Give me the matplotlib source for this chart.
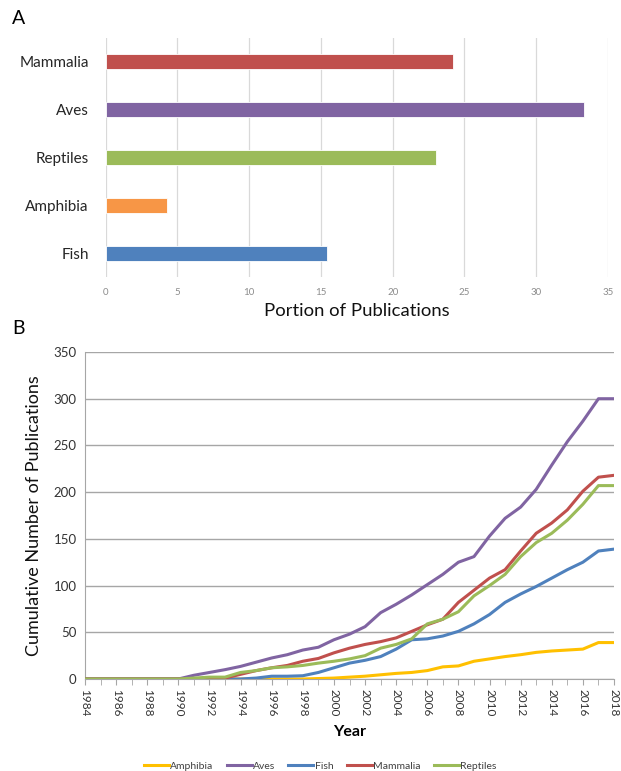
import matplotlib
matplotlib.use("Agg")
import matplotlib.pyplot as plt
import numpy as np

plt.rcParams['font.family'] = ['Lato', 'DejaVu Sans']

# Panel A data
categories = ["Fish", "Amphibia", "Reptiles", "Aves", "Mammalia"]
portions = [15.4, 4.3, 23.0, 33.3, 24.2]
bar_colors = ["#4F81BD", "#F79646", "#9BBB59", "#8064A2", "#C0504D"]

# Panel B data
years = list(range(1984, 2019))
amphibia = [0, 0, 0, 0, 0, 0, 0, 0, 0, 0, 0, 0, 0, 0, 0, 0.5, 1, 2, 3, 4.5, 6, 7, 9, 13, 14, 19, 21.5, 24, 26, 28.5, 30, 31, 32, 39, 39]
aves = [0, 0, 0, 0, 0, 0, 0, 4, 7, 10, 13.5, 18, 22.5, 26, 31, 34, 42, 48, 56, 71, 80, 90, 101, 112, 125, 131, 153, 172, 184, 203, 229, 254, 276, 300, 300]
fish = [0, 0, 0, 0, 0, 0, 0, 0, 0, 0, 0, 1, 3, 3, 3.5, 7, 12, 17, 20, 24, 32, 42, 43, 46, 51, 59, 69, 82, 91, 99, 108, 117, 125, 137, 139]
mammalia = [0, 0, 0, 0, 0, 0, 0, 0, 1, 1, 5, 9, 12, 14.5, 19, 22, 28, 33, 37, 40, 44, 51, 58, 64, 82, 95, 108, 117, 137, 156, 167, 181, 201, 216, 218]
reptiles = [0, 0, 0, 0, 0, 0, 0, 1, 2, 2, 7, 9, 12, 13, 14.5, 17, 19, 21.5, 25, 33, 37, 43, 59, 64, 72, 89, 100, 112, 131, 146, 156, 170, 187, 207, 207]
series_names = ["Amphibia", "Aves", "Fish", "Mammalia", "Reptiles"]
series_values = [amphibia, aves, fish, mammalia, reptiles]
line_colors = ["#FFC000", "#8064A2", "#4F81BD", "#C0504D", "#9BBB59"]

W, H = 621, 771
fig = plt.figure(figsize=(W / 100, H / 100), dpi=100)

# ---------- Panel A ----------
axA = fig.add_axes([105.5 / W, 1 - 277 / H, (608 - 105.5) / W, (277 - 38) / H])
ypos = np.arange(len(categories))
axA.barh(ypos, portions, height=0.31, color=bar_colors, edgecolor="white", linewidth=0.6, zorder=3)
axA.set_xlim(0, 35)
axA.set_ylim(-0.5, 4.5)
axA.set_xticks(np.arange(0, 36, 5))
axA.set_yticks(ypos)
axA.set_yticklabels(categories, fontsize=11, color="#262626")
axA.tick_params(axis="x", labelsize=7, colors="#8C8C8C", length=0, pad=8)
axA.tick_params(axis="y", length=0, pad=12)
axA.grid(axis="x", color="#D9D9D9", linewidth=0.9, zorder=0)
for s in axA.spines.values():
    s.set_visible(False)
axA.set_xlabel("Portion of Publications", fontsize=13.3, color="#111111", labelpad=4)
fig.text(12 / W, 1 - 19 / H, "A", fontsize=14, va="center", ha="left")

# ---------- Panel B ----------
axB = fig.add_axes([85 / W, 1 - 679 / H, (614 - 85) / W, (679 - 352) / H])
for name, vals, c in zip(series_names, series_values, line_colors):
    axB.plot(years, vals, color=c, linewidth=2.2, label=name, zorder=3, solid_joinstyle="round")
axB.set_xlim(1984, 2018)
axB.set_ylim(0, 350)
axB.set_yticks(np.arange(0, 351, 50))
axB.set_xticks(years[::2])
axB.set_xticks(years, minor=True)
axB.set_xticklabels([str(y) for y in years[::2]], rotation=270, fontsize=8.5, color="#333333")
axB.tick_params(axis="x", which="both", direction="out", length=4, color="#A6A6A6", pad=3)
axB.tick_params(axis="y", length=0, labelsize=9.5, colors="#333333", pad=6)
axB.grid(axis="y", color="#A6A6A6", linewidth=1.0, zorder=0)
for side in ["top", "right"]:
    axB.spines[side].set_visible(False)
axB.spines["left"].set_color("#A6A6A6")
axB.spines["bottom"].set_color("#A6A6A6")
axB.set_ylabel("Cumulative Number of Publications", fontsize=13, color="#111111", labelpad=8)
axB.set_xlabel("Year", fontsize=11.5, fontweight="bold", labelpad=6)
fig.text(12 / W, 1 - 328 / H, "B", fontsize=14, va="center", ha="left")

leg = fig.legend(loc="center", bbox_to_anchor=(320 / W, 1 - 766 / H), ncol=5, frameon=False,
                 fontsize=7.5, handlelength=2.4, handletextpad=0.1, columnspacing=1.3)
for t in leg.get_texts():
    t.set_color("#404040")

fig.savefig("out.png", dpi=100)
